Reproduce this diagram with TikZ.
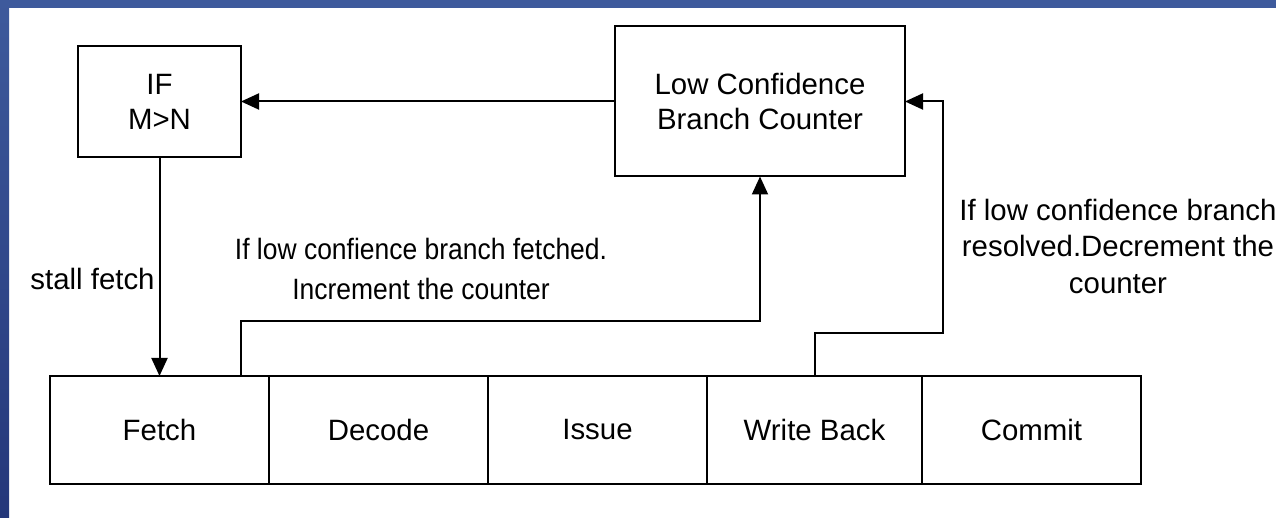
\documentclass[tikz,border=0pt]{standalone}
\usepackage{fontspec}
\setmainfont{Liberation Sans}
\newfontfamily\narrowsans[FakeStretch=0.9]{Liberation Sans}
\usetikzlibrary{positioning,arrows.meta,calc}

\definecolor{framedark}{HTML}{24377A}
\definecolor{frameblue}{HTML}{3E5A9C}
\definecolor{framelight}{HTML}{5879C4}

\tikzset{
  block/.style={draw, line width=1pt, minimum width=109.5pt, minimum height=54pt,
    outer sep=0pt, align=center},
  link/.style={line width=1pt},
  arrow/.style={link, -{Triangle[length=9pt,width=8pt]}},
}

\begin{document}
\begin{tikzpicture}[x=0.5pt, y=-0.5pt, font=\fontsize{14.7}{17.5}\selectfont]
\useasboundingbox (0,0) rectangle (1276,518);
\fill[white] (0,0) rectangle (1276,518);

% Frame
\shade[left color=frameblue, middle color=framelight, right color=frameblue] (0,0) rectangle (1276,8);
\shade[top color=frameblue, bottom color=framedark] (0,0) rectangle (9,518);

% Pipeline stages
\node[block] (fetch) at (159.5,430) {Fetch};
\node[block, right=0pt of fetch] (decode) {Decode};
\node[block, right=0pt of decode] (issue) {Issue};
\node[block, right=0pt of issue, minimum width=107.5pt] (wb) {Write Back};
\node[block, right=0pt of wb] (commit) {Commit};

% Condition and counter
\node[block, minimum width=81.5pt, minimum height=55.5pt] (cond) at (159.5,101.5) {IF\\M>N};
\node[block, minimum width=145pt, minimum height=75pt] (counter) at (760,101.5) {Low Confidence\\Branch Counter};

% Connectors
\draw[arrow] (counter) -- (cond);
\draw[arrow] (cond) -- (fetch);
\coordinate (fetch out) at ($(fetch.north)+(81.5,0)$);
\draw[arrow] (fetch out) -- ++(0,-55) -| (counter.south);
\coordinate (wb turn) at ($(counter.east)+(38,0)$);
\draw[arrow] (wb.north) -- ++(0,-43) -| (wb turn) -- (counter.east);

% Labels
\node[anchor=east, inner sep=0pt] (stall) at (155,279) {stall fetch};
\node[align=center, font=\narrowsans\fontsize{14.7}{20}\selectfont] (inc) at (421,269)
  {If low confience branch fetched.\\Increment the counter};
\node[align=center, font=\fontsize{14.7}{18.25}\selectfont] (dec) at (1118,246)
  {If low confidence branch\\resolved.Decrement the\\counter};
\end{tikzpicture}
\end{document}
